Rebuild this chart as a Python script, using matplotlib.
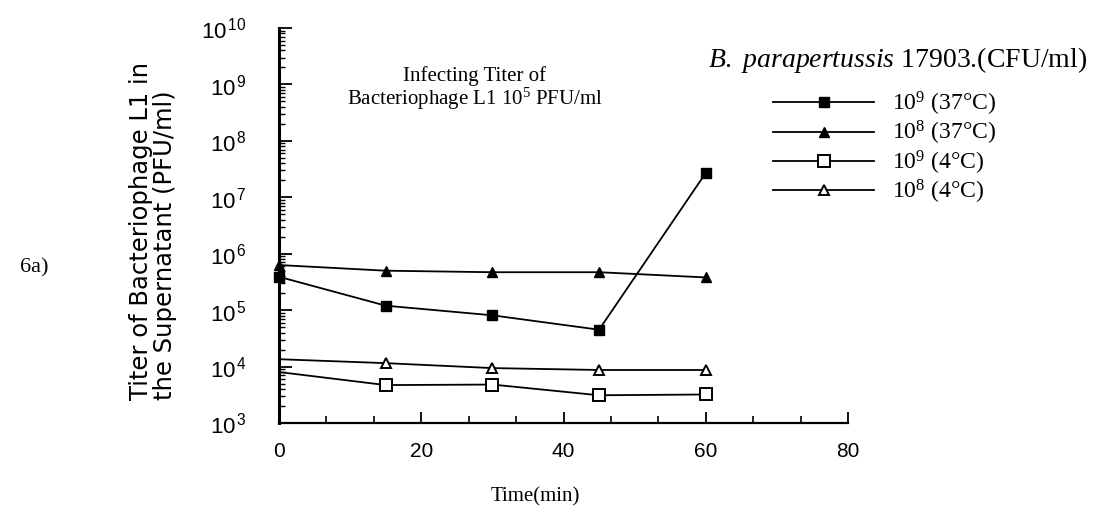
import math
import matplotlib
matplotlib.use("Agg")
import matplotlib.pyplot as plt
from matplotlib.ticker import FixedLocator, FuncFormatter, LogLocator, NullFormatter
from matplotlib.lines import Line2D

# ---- data ----
time_min = [0, 15, 30, 45, 60]
titer_1e9_37C = [3.9e5, 1.2e5, 8.1e4, 4.5e4, 2.7e7]
titer_1e8_37C = [6.3e5, 5.0e5, 4.7e5, 4.7e5, 3.8e5]
titer_1e9_4C = [8.0e3, 4.7e3, 4.8e3, 3.1e3, 3.2e3]
titer_1e8_4C = [1.35e4, 1.15e4, 9.4e3, 8.7e3, 8.7e3]
series_labels = [r"10$^{9}$ (37°C)", r"10$^{8}$ (37°C)", r"10$^{9}$ (4°C)", r"10$^{8}$ (4°C)"]
x_ticks = [0, 20, 40, 60, 80]
y_exponents = [3, 4, 5, 6, 7, 8, 9, 10]

plt.rcParams["mathtext.fontset"] = "custom"
plt.rcParams["mathtext.rm"] = "Liberation Serif"
plt.rcParams["mathtext.it"] = "Liberation Serif:italic"
plt.rcParams["mathtext.sf"] = "Liberation Sans"
SERIF = "Liberation Serif"
SANS = "Liberation Sans"

W, H = 1097, 514
fig = plt.figure(figsize=(W / 100, H / 100), dpi=100)
ax = fig.add_axes([279 / W, 1 - 423 / H, (848 - 279) / W, (423 - 28) / H])

lw = 1.3
ax.plot(time_min, titer_1e9_37C, color="black", lw=lw, marker="s", ms=7,
        mfc="black", mec="black", clip_on=False, zorder=3)
ax.plot(time_min, titer_1e8_37C, color="black", lw=lw, marker="^", ms=7,
        mfc="black", mec="black", clip_on=False, zorder=3)
ax.plot(time_min, titer_1e9_4C, color="black", lw=lw, marker="s", ms=9,
        mfc="white", mec="black", mew=1.4, markevery=slice(1, None), clip_on=False, zorder=3)
ax.plot(time_min, titer_1e8_4C, color="black", lw=lw, marker="^", ms=7,
        mfc="white", mec="black", mew=1.4, markevery=slice(1, None), clip_on=False, zorder=3)

ax.set_yscale("log")
ax.set_xlim(0, 80)
ax.set_ylim(10 ** y_exponents[0], 10 ** y_exponents[-1])

ax.spines["top"].set_visible(False)
ax.spines["right"].set_visible(False)
ax.spines["left"].set_linewidth(2.2)
ax.spines["bottom"].set_linewidth(1.6)

ax.xaxis.set_major_locator(FixedLocator(x_ticks))
ax.xaxis.set_minor_locator(FixedLocator([i * 20 / 3 for i in range(13)]))
ax.yaxis.set_major_locator(FixedLocator([10.0 ** e for e in y_exponents]))
ax.yaxis.set_minor_locator(LogLocator(base=10, subs=range(2, 10), numticks=20))
ax.yaxis.set_minor_formatter(NullFormatter())
ax.yaxis.set_major_formatter(FuncFormatter(
    lambda v, p: r"$\mathsf{10^{\,%d}}$" % round(math.log10(v))))

ax.tick_params(axis="x", which="major", direction="in", length=8, width=1.3,
               pad=14, labelsize=15)
ax.tick_params(axis="x", which="minor", direction="in", length=5, width=1.2)
ax.tick_params(axis="y", which="major", direction="in", length=9, width=1.3,
               pad=23, labelsize=16)
ax.tick_params(axis="y", which="minor", direction="in", length=4, width=1.0)
for lab in ax.get_xticklabels():
    lab.set_fontfamily(SANS)

ax.set_xlabel("Time(min)", fontfamily=SERIF, fontsize=15)
ax.xaxis.set_label_coords((535 - 279) / 569, -(487 - 423) / 395)

fig.text(153 / W, 1 - 231 / H, "Titer of Bacteriophage L1 in\nthe Supernatant (PFU/ml)",
         fontfamily="DejaVu Sans", fontsize=17.5, rotation=90, ha="center", va="center",
         multialignment="left", linespacing=0.98)

fig.text(475 / W, 1 - 89 / H, "Infecting Titer of\n" r"Bacteriophage L1 10$^{5}$ PFU/ml",
         fontfamily=SERIF, fontsize=15, ha="center", va="center", linespacing=1.0)

fig.text(20 / W, 1 - 268 / H, "6a)", fontfamily=SERIF, fontsize=16, ha="left", va="center")

fig.text(708 / W, 1 - 60 / H, r"$\mathit{B.\ parapertussis}$ 17903.(CFU/ml)",
         fontfamily=SERIF, fontsize=20, ha="left", va="center")

handles = [
    Line2D([], [], color="black", lw=lw, marker="s", ms=7, mfc="black", mec="black"),
    Line2D([], [], color="black", lw=lw, marker="^", ms=7, mfc="black", mec="black"),
    Line2D([], [], color="black", lw=lw, marker="s", ms=9, mfc="white", mec="black", mew=1.4),
    Line2D([], [], color="black", lw=lw, marker="^", ms=7, mfc="white", mec="black", mew=1.4),
]
leg = fig.legend(handles, series_labels, loc="upper left",
                 bbox_to_anchor=(761 / W, 1 - 78 / H), frameon=False,
                 prop={"family": SERIF, "size": 17}, handlelength=4.3,
                 handletextpad=0.75, labelspacing=0.05, borderpad=0)

fig.savefig("out.png", dpi=100)
